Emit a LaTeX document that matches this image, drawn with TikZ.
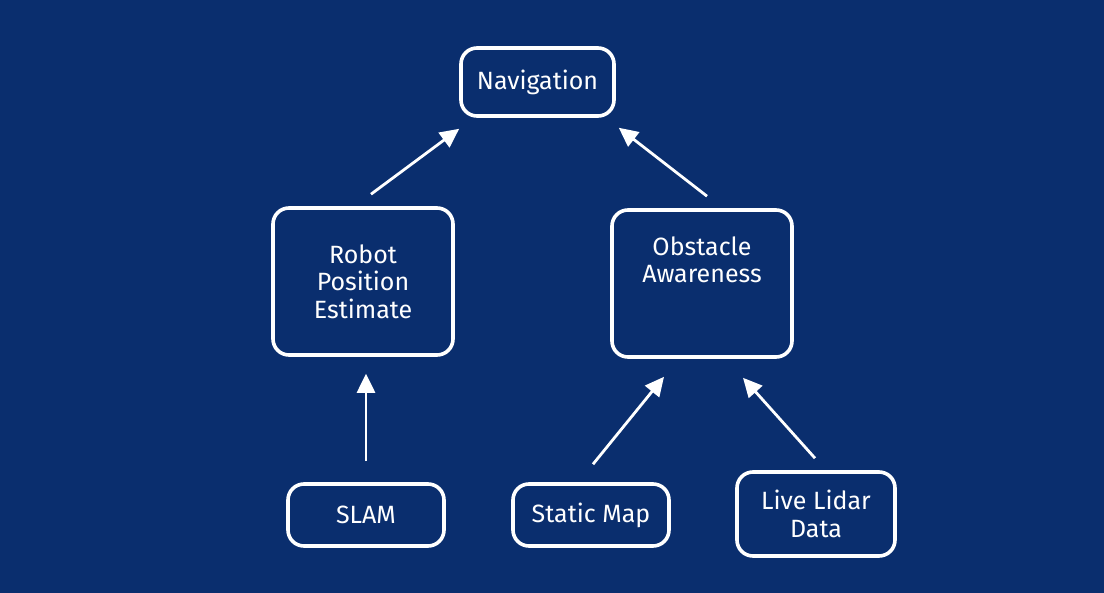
\documentclass[tikz,border=0pt]{standalone}
\usepackage{fontspec}
\setmainfont{Fira Sans}
\usetikzlibrary{arrows.meta}
\definecolor{navybg}{RGB}{10,46,110}
\begin{document}
\begin{tikzpicture}[x=1pt,y=-1pt,
  box/.style={draw=white, line width=3.6pt, rounded corners=16pt, fill=navybg, text=white,
    align=center, font=\fontsize{25}{27.5}\selectfont, inner sep=0pt},
  txt/.style={text=white, align=center, font=\fontsize{25}{27.5}\selectfont, inner sep=0pt},
  arr/.style={draw=white, line width=2.8pt, -{Triangle[length=19pt,width=18pt]}}]
\fill[navybg] (0,0) rectangle (1104,593);
\useasboundingbox (0,0) rectangle (1104,593);
\node[box, minimum width=153pt, minimum height=68pt] (nav) at (537.5,82) {Navigation};
\node[box, minimum width=180pt, minimum height=147pt] (rob) at (363,281.5) {Robot\\Position\\Estimate};
\node[box, minimum width=180pt, minimum height=147pt] (obs) at (702,283.5) {};
\node[txt] (obst) at (702,260) {Obstacle\\Awareness};
\node[box, minimum width=156pt, minimum height=62pt] (slam) at (366,515) {SLAM};
\node[box, minimum width=156pt, minimum height=62pt] (stat) at (591,515) {Static Map};
\node[box, minimum width=158pt, minimum height=84pt] (lid) at (816,514) {Live Lidar\\Data};
\draw[arr] ([shift={(0,-21)}]slam.north) -- ([shift={(3,17)}]rob.south);
\draw[arr] ([shift={(8,-12)}]rob.north) -- ([shift={(0,11)}]nav.south west);
\draw[arr] ([shift={(5,-12)}]obs.north) -- ([shift={(3,10)}]nav.south east);
\draw[arr] ([shift={(2,-18)}]stat.north) -- ([shift={(-38,18)}]obs.south);
\draw[arr] ([shift={(-1,-12)}]lid.north) -- ([shift={(41,19)}]obs.south);
\end{tikzpicture}
\end{document}
